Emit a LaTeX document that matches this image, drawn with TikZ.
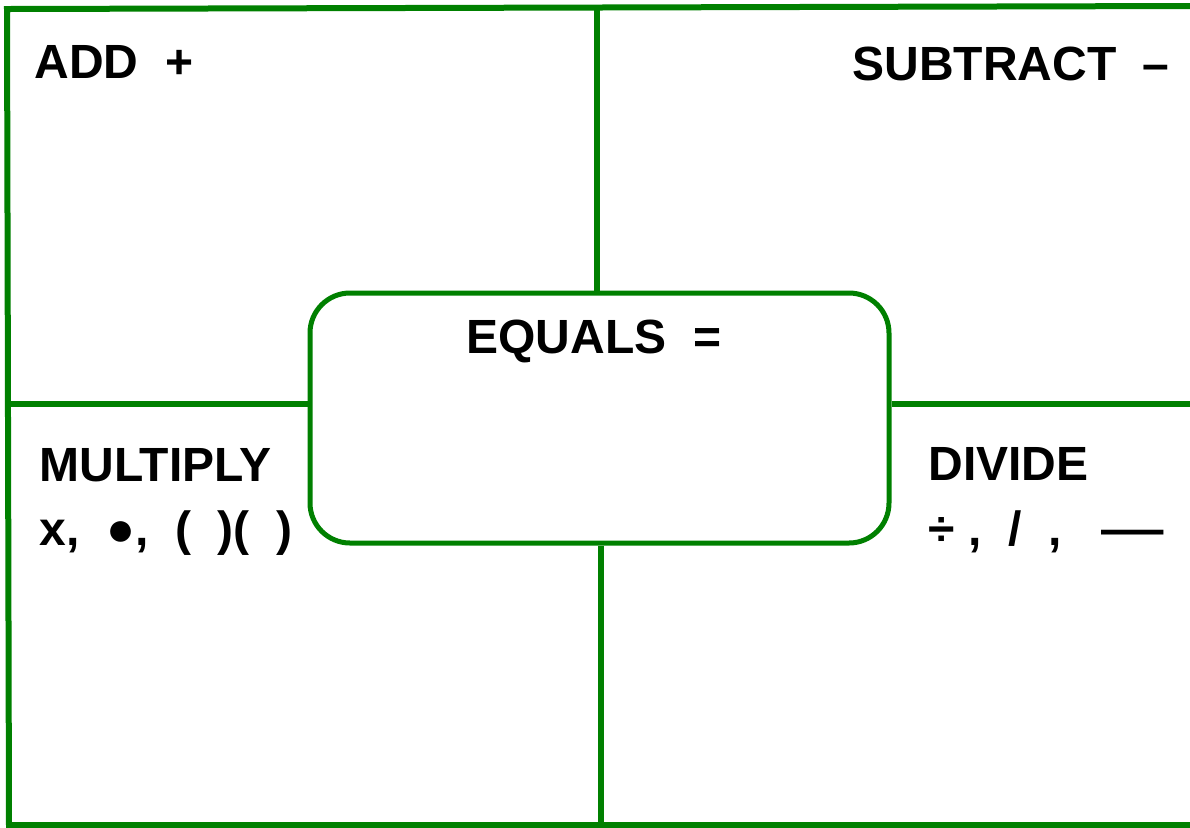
\documentclass[tikz,border=0pt]{standalone}
\usepackage{fontspec}
\setmainfont{Liberation Sans}
\usetikzlibrary{positioning}
\definecolor{framegreen}{RGB}{0,128,0}

\begin{document}
\begin{tikzpicture}[x=0.5pt, y=-0.5pt,
    frame/.style={draw=framegreen, line width=3pt},
    eqbox/.style={draw=framegreen, fill=white, line width=2.5pt, rounded corners=20pt,
      minimum width=289.5pt, minimum height=125pt},
    every node/.style={font=\fontsize{24}{28}\selectfont\bfseries, inner sep=0pt}]
    \useasboundingbox (0,0) rectangle (1190,827);

    \coordinate (tl) at (7,9);
    \coordinate (tr) at (1190,6);
    \coordinate (bl) at (9,825);
    \coordinate (br) at (1190,825);
    \coordinate (ut) at (597,9);
    \coordinate (lb) at (601,825);
    \coordinate (lm) at (8,404);
    \coordinate (rm) at (1190,404);

    \draw[frame] (tr) -- (tl) -- (bl) -- (br);

    \node[eqbox] (eq) at (599.5,418) {};

    \draw[frame] (ut) -- (ut |- eq.north);
    \draw[frame] (eq.south -| lb) -- (lb);
    \draw[frame] (lm) -- (lm -| eq.west);
    \draw[frame] (rm -| eq.east) -- (rm);

    \node[anchor=base west] (add) at (34,78) {ADD\ \ +};
    \node[anchor=base west] (sub) at (852,80) {SUBTRACT\ \ –};
    \node[anchor=base west] (equals) at (466,353) {EQUALS\ \ =};
    \node[anchor=base west] (mul) at (39,481) {MULTIPLY};
    \node[anchor=base west] (mulsym) at (39,545) {x,\ \ ●,\ \ (\ \ )(\ \ )};
    \node[anchor=base west] (div) at (928,480) {DIVIDE};
    \node[anchor=base west] (divsym) at (928,545) {÷ ,\ \ /\ \ ,\ \ \ \scalebox{1.3}[1]{—}};
  \end{tikzpicture}
\end{document}
